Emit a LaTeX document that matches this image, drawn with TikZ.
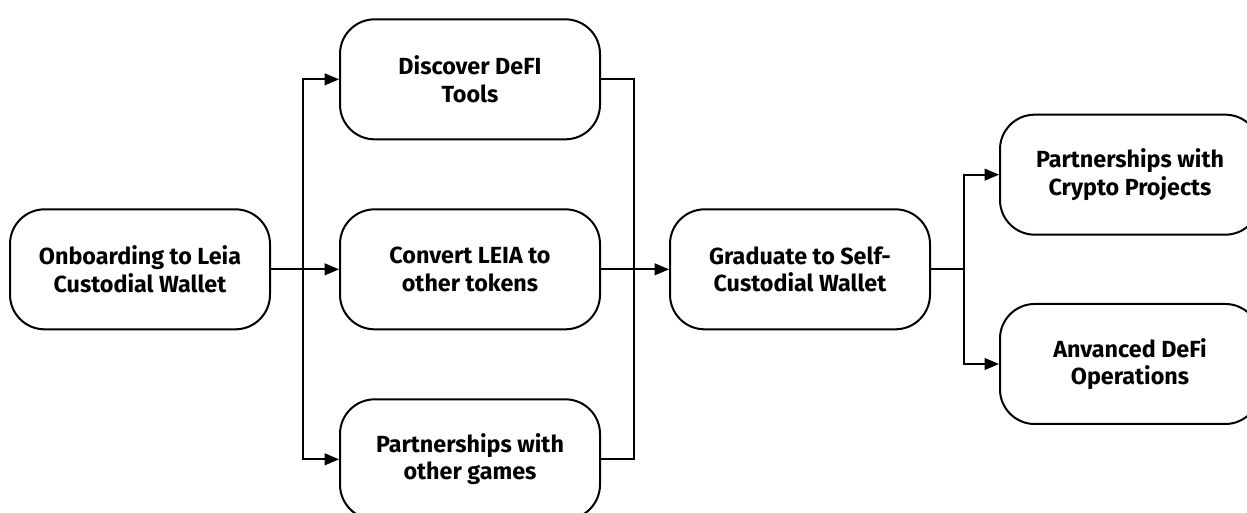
\documentclass[tikz,border=0pt]{standalone}
\usepackage{fontspec}
\setmainfont{Fira Sans}
\usetikzlibrary{arrows,calc}

\begin{document}
\begin{tikzpicture}[->,>=triangle 45,line width=1.5pt,node distance=247.5pt,
                    box/.style={draw,rounded corners=26pt,
                      minimum width=195pt,minimum height=90pt,align=center,
                      font=\fontsize{17.5}{20.5}\selectfont\bfseries}]

  \useasboundingbox (0,0) rectangle (935.25pt,-384.75pt);

  \node[box] (onboard) at (105pt,-202pt) {Onboarding to Leia\\Custodial Wallet};
  \node[box] (convert)  [right of=onboard] {Convert LEIA to\\other tokens};
  \node[box] (discover) [above of=convert,node distance=142.5pt] {Discover DeFI\\Tools};
  \node[box] (games)    [below of=convert,node distance=142.5pt] {Partnerships with\\other games};
  \node[box] (graduate) [right of=convert] {Graduate to Self-\\Custodial Wallet};
  \node[box] (crypto)   [right of=graduate,yshift=71pt] {Partnerships with\\Crypto Projects};
  \node[box] (advanced) [right of=graduate,yshift=-71pt] {Anvanced DeFi\\Operations};

  % split and merge points
  \coordinate (splitL) at ($(onboard.east)!0.47!(convert.west)$);
  \coordinate (mergeR) at ($(convert.east)!0.49!(graduate.west)$);
  \coordinate (splitR) at ($(graduate.east)!0.49!(crypto.west |- graduate.east)$);

  \draw (onboard) -- (convert);
  \draw (splitL) |- (discover);
  \draw (splitL) |- (games);
  \draw[-] (discover) -| (mergeR);
  \draw[-] (games) -| (mergeR);
  \draw (convert) -- (graduate);
  \draw[-] (graduate) -- (splitR);
  \draw (splitR) |- (crypto);
  \draw (splitR) |- (advanced);
\end{tikzpicture}
\end{document}
